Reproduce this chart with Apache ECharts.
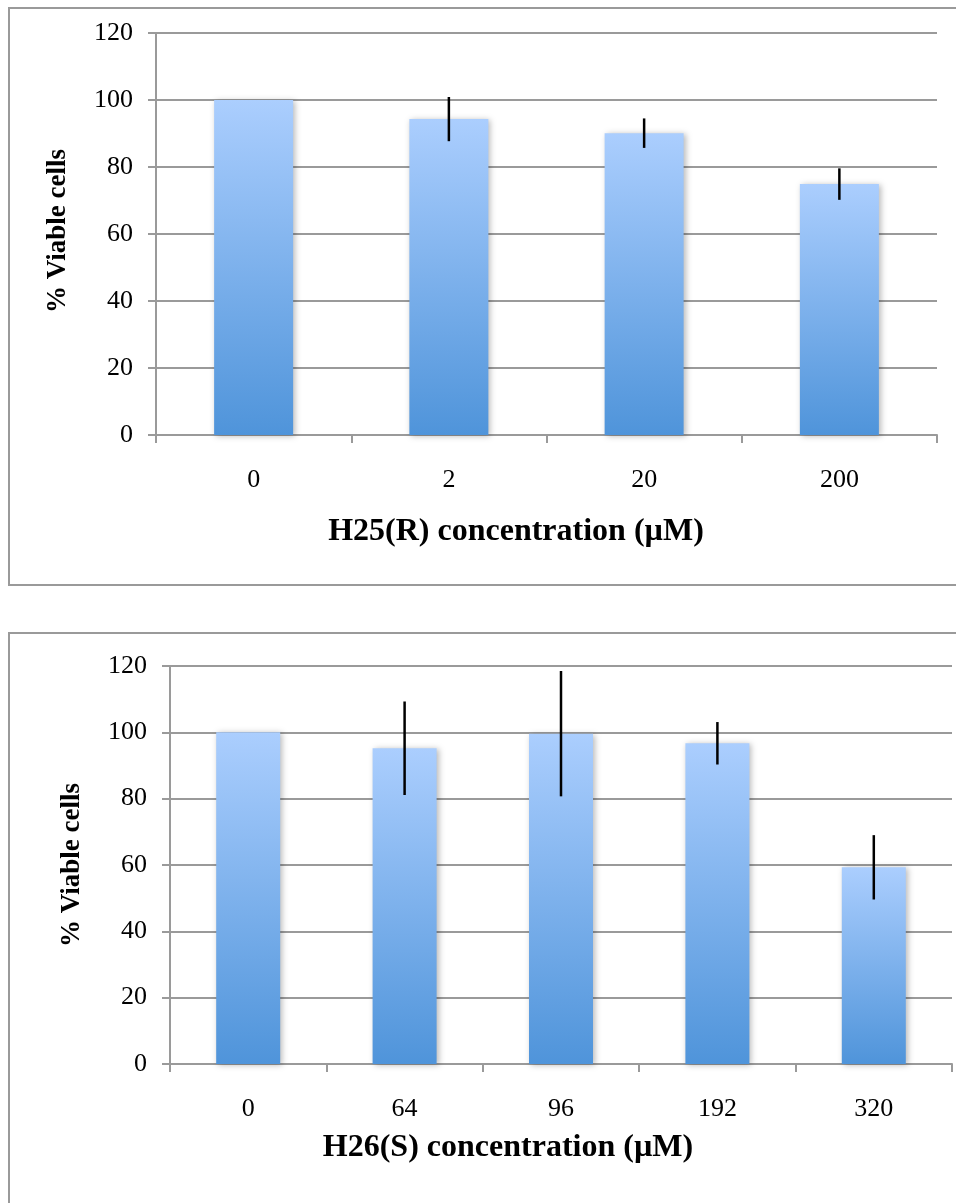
<!DOCTYPE html>
<html>
<head>
<meta charset="utf-8">
<script src="https://cdn.jsdelivr.net/npm/echarts@6/dist/echarts.min.js"></script>
<style>
  html, body { margin: 0; padding: 0; background: #fff; }
  #chart { width: 956px; height: 1203px; }
</style>
</head>
<body>
<div id="chart"></div>
<script>
// Viability of cells after treatment with H25(R) and H26(S)
const h25Doses = ['0', '2', '20', '200'];
const h25Viable = [100, 94.3, 90.1, 74.9];
const h25Err = [0, 6.6, 4.4, 4.7];

const h26Doses = ['0', '64', '96', '192', '320'];
const h26Viable = [100, 95.2, 99.6, 96.7, 59.3];
const h26Err = [0, 14.1, 18.9, 6.4, 9.7];

const yTicks = [0, 20, 40, 60, 80, 100, 120];

const FONT = '"Liberation Serif", "Times New Roman", serif';
const GRID_GREY = '#9a9a9a';

const barGradient = new echarts.graphic.LinearGradient(0, 0, 0, 1, [
  { offset: 0, color: '#abcefe' },
  { offset: 1, color: '#4f94da' }
]);

function yAxis(gridIndex) {
  return {
    type: 'value', gridIndex,
    min: yTicks[0], max: yTicks[yTicks.length - 1], interval: 20,
    axisLine: { show: true, lineStyle: { color: GRID_GREY, width: 2 } },
    axisTick: { show: true, length: 8, lineStyle: { color: GRID_GREY, width: 2 } },
    axisLabel: { fontFamily: FONT, fontSize: 26, color: '#000', margin: 23 },
    splitLine: { show: true, lineStyle: { color: GRID_GREY, width: 2 } }
  };
}

function xAxis(gridIndex, cats) {
  return {
    type: 'category', gridIndex, data: cats,
    axisLine: { show: true, lineStyle: { color: GRID_GREY, width: 2 } },
    axisTick: { show: true, length: 8, alignWithLabel: false, lineStyle: { color: GRID_GREY, width: 2 } },
    axisLabel: { fontFamily: FONT, fontSize: 26, color: '#000', margin: 32 }
  };
}

function bars(idx, values, width) {
  return {
    type: 'bar', xAxisIndex: idx, yAxisIndex: idx,
    data: values, barWidth: width,
    itemStyle: {
      color: barGradient,
      shadowColor: 'rgba(0,0,0,0.28)', shadowBlur: 6,
      shadowOffsetX: 2, shadowOffsetY: 1
    },
    z: 2
  };
}

// vertical error lines (no caps) from value - err to value + err
function errorBars(idx, values, errs) {
  return {
    type: 'custom', xAxisIndex: idx, yAxisIndex: idx,
    data: values.map((v, i) => [i, v - errs[i], v + errs[i]]),
    renderItem(params, api) {
      if (api.value(2) === api.value(1)) return null;
      const lo = api.coord([api.value(0), api.value(1)]);
      const hi = api.coord([api.value(0), api.value(2)]);
      return {
        type: 'line',
        shape: { x1: lo[0], y1: lo[1], x2: hi[0], y2: hi[1] },
        style: { stroke: '#000', lineWidth: 2.5 }
      };
    },
    z: 5
  };
}

function titleText(text, x, y, rotate) {
  return {
    type: 'text', x, y, rotation: rotate ? Math.PI / 2 : 0,
    style: {
      text, fontFamily: FONT, fontSize: rotate ? 27 : 32, fontWeight: 'bold',
      fill: '#000', align: 'center', verticalAlign: 'middle'
    }
  };
}

const chart = echarts.init(document.getElementById('chart'), null, { renderer: 'canvas' });
chart.setOption({
  animation: false,
  grid: [
    { left: 156, top: 33, right: 19, bottom: 1203 - 435 },
    { left: 170, top: 666, right: 4, bottom: 1203 - 1064 }
  ],
  xAxis: [xAxis(0, h25Doses), xAxis(1, h26Doses)],
  yAxis: [yAxis(0), yAxis(1)],
  series: [
    bars(0, h25Viable, 79),
    errorBars(0, h25Viable, h25Err),
    bars(1, h26Viable, 64),
    errorBars(1, h26Viable, h26Err)
  ],
  graphic: [
    { type: 'rect', shape: { x: 9, y: 8, width: 960, height: 577 },
      style: { fill: null, stroke: GRID_GREY, lineWidth: 2 }, z: -1 },
    { type: 'rect', shape: { x: 9, y: 633, width: 960, height: 600 },
      style: { fill: null, stroke: GRID_GREY, lineWidth: 2 }, z: -1 },
    titleText('H25(R) concentration (\u00b5M)', 516, 532, false),
    titleText('% Viable cells', 58, 231, true),
    titleText('H26(S) concentration (\u00b5M)', 508, 1148, false),
    titleText('% Viable cells', 72, 865, true)
  ]
});
</script>
</body>
</html>
